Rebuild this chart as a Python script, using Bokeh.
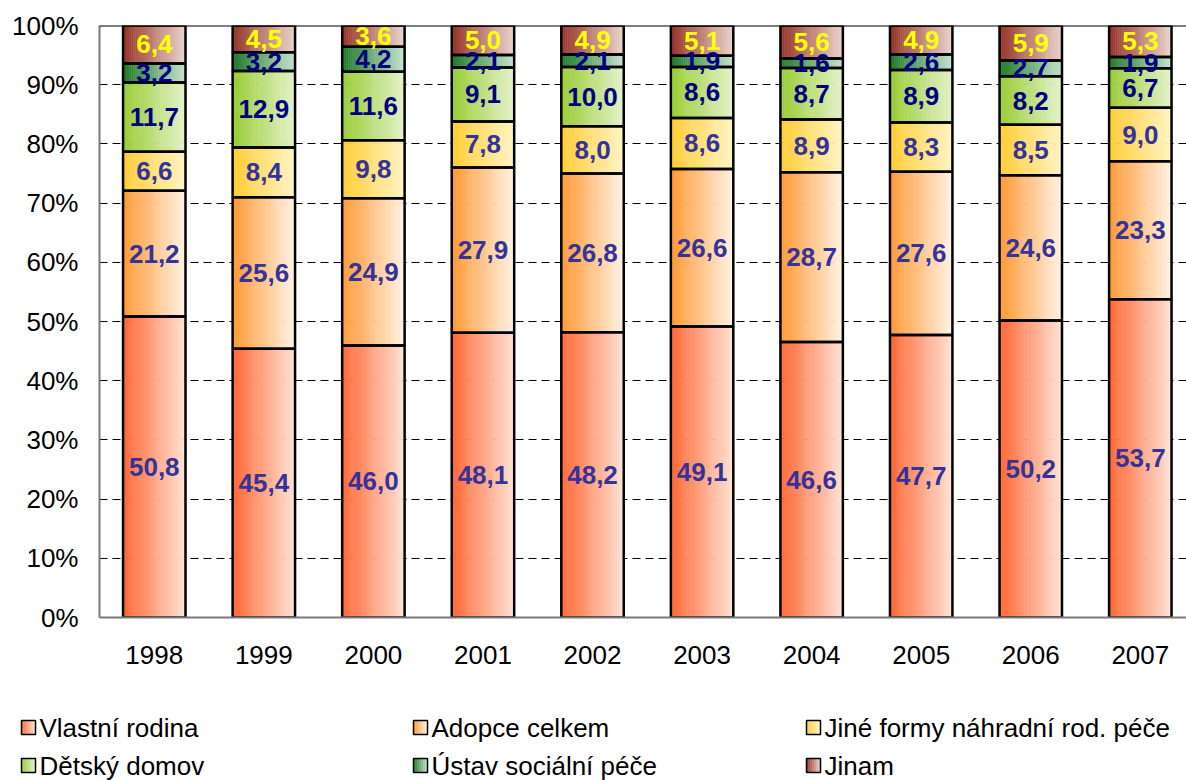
import numpy as np
from bokeh.plotting import figure
from bokeh.models import Range1d, FixedTicker, Span
from bokeh.layouts import column, row
from bokeh.embed import file_html
from bokeh.resources import INLINE
from bokeh.core.properties import value

# ---------------- data ----------------
years = ["1998", "1999", "2000", "2001", "2002", "2003", "2004", "2005", "2006", "2007"]
series_names = ["Vlastní rodina", "Adopce celkem", "Jiné formy náhradní rod. péče",
                "Dětský domov", "Ústav sociální péče", "Jinam"]
vlastni_rodina = [50.8, 45.4, 46.0, 48.1, 48.2, 49.1, 46.6, 47.7, 50.2, 53.7]
adopce_celkem = [21.2, 25.6, 24.9, 27.9, 26.8, 26.6, 28.7, 27.6, 24.6, 23.3]
jine_formy = [6.6, 8.4, 9.8, 7.8, 8.0, 8.6, 8.9, 8.3, 8.5, 9.0]
detsky_domov = [11.7, 12.9, 11.6, 9.1, 10.0, 8.6, 8.7, 8.9, 8.2, 6.7]
ustav_soc_pece = [3.2, 3.2, 4.2, 2.1, 2.1, 1.9, 1.6, 2.6, 2.7, 1.9]
jinam = [6.4, 4.5, 3.6, 5.0, 4.9, 5.1, 5.6, 4.9, 5.9, 5.3]
series_values = [vlastni_rodina, adopce_celkem, jine_formy, detsky_domov, ustav_soc_pece, jinam]

# ---------------- style ----------------
left_colors = ["#FF6633", "#FF9933", "#FFCC33", "#99CC33", "#1E7A28", "#963226"]
right_colors = ["#FFE2D4", "#FFF2E4", "#FFF4C4", "#E4F2CA", "#C4E2CC", "#EAD4CC"]
label_colors = ["#333399", "#333399", "#333399", "#000080", "#000080", "#FFFF00"]
FONT = "Liberation Sans"
W, H1, H2 = 1186, 700, 80
BAR_W = 0.57
NSTRIP = 30


def h2rgb(h):
    h = h.lstrip("#")
    return np.array([int(h[i:i + 2], 16) for i in (0, 2, 4)], dtype=float)


def mix(a, b, t):
    c = h2rgb(a) * (1 - t) + h2rgb(b) * t
    return "#%02x%02x%02x" % tuple(int(round(v)) for v in c)


vals = np.array(series_values, dtype=float)
vals = vals / vals.sum(axis=0) * 100.0
tops = np.cumsum(vals, axis=0)
bottoms = tops - vals
xidx = np.arange(len(years))

p = figure(width=W, height=H1, output_backend="svg", toolbar_location=None,
           x_range=Range1d(-0.5, -0.5 + 1087 / 109.56), y_range=Range1d(0, 100),
           min_border_left=99, min_border_right=0, min_border_top=25, min_border_bottom=H1 - 617)
p.outline_line_color = None
p.background_fill_color = "white"
p.border_fill_color = "white"

# grid
p.xgrid.visible = False
p.ygrid.ticker = FixedTicker(ticks=list(range(10, 100, 10)))
p.ygrid.grid_line_color = "black"
p.ygrid.grid_line_dash = "8 5"
p.ygrid.grid_line_width = 1

# gradient strips
sx, sb, st, sc = [], [], [], []
sw = BAR_W / NSTRIP
for s in range(len(series_names)):
    for k in range(NSTRIP):
        t = (k + 0.5) / NSTRIP
        c = mix(left_colors[s], right_colors[s], t)
        for i in range(len(years)):
            sx.append(xidx[i] - BAR_W / 2 + (k + 0.5) * sw)
            sb.append(bottoms[s, i])
            st.append(tops[s, i])
            sc.append(c)
p.vbar(x=sx, width=sw * 1.2, bottom=sb, top=st, fill_color=sc, line_color=None)

# outlines
ox, ob, ot = [], [], []
for s in range(len(series_names)):
    for i in range(len(years)):
        ox.append(xidx[i]); ob.append(bottoms[s, i]); ot.append(tops[s, i])
p.vbar(x=ox, width=BAR_W, bottom=ob, top=ot, fill_color=None, line_color="black", line_width=2.5)

# labels
lx, ly, lt, lc = [], [], [], []
for s in range(len(series_names)):
    for i in range(len(years)):
        lx.append(xidx[i])
        ly.append((bottoms[s, i] + tops[s, i]) / 2)
        lt.append(f"{series_values[s][i]:.1f}".replace(".", ","))
        lc.append(label_colors[s])
p.text(x=lx, y=ly, text=lt, text_color=lc, text_font=value(FONT), text_font_style="bold",
       text_font_size="26px", text_align="center", text_baseline="middle")

p.add_layout(Span(location=100, dimension="width", line_color="black", line_width=2))

# axes
p.yaxis.ticker = FixedTicker(ticks=list(range(0, 101, 10)))
p.yaxis.major_label_overrides = {t: f"{t}%" for t in range(0, 101, 10)}
p.xaxis.ticker = FixedTicker(ticks=list(range(len(years))))
p.xaxis.major_label_overrides = {i: y for i, y in enumerate(years)}
for ax in (p.xaxis, p.yaxis):
    ax.major_label_text_font = FONT
    ax.major_label_text_font_size = "26px"
    ax.major_label_text_color = "black"
    ax.major_tick_out = 0
    ax.major_tick_in = 0
    ax.minor_tick_out = 0
    ax.minor_tick_in = 0
    ax.axis_line_color = "#7a7a7a"
    ax.axis_line_width = 2
p.yaxis.major_label_standoff = 21
p.xaxis.major_label_standoff = 28

# ---------------- legend (separate strip, pixel coordinates) ----------------
q = figure(width=W, height=H2, output_backend="svg", toolbar_location=None,
           x_range=Range1d(0, W), y_range=Range1d(H2, 0),
           min_border_left=0, min_border_right=0, min_border_top=0, min_border_bottom=0)
q.axis.visible = False
q.grid.visible = False
q.outline_line_color = None
q.border_fill_color = "white"

col_sq = [28, 420, 813]
row_y = [727 - H1, 765 - H1]
SQ = 14
gx, gy, gc = [], [], []
bx, by, tx, ty = [], [], [], []
NL = 7
for s, name in enumerate(series_names):
    cx = col_sq[s % 3]
    cy = row_y[s // 3]
    for k in range(NL):
        t = (k + 0.5) / NL
        gx.append(cx - SQ / 2 + (k + 0.5) * SQ / NL)
        gy.append(cy)
        gc.append(mix(left_colors[s], right_colors[s], t))
    bx.append(cx); by.append(cy)
    tx.append(cx + 11); ty.append(cy)
q.rect(x=gx, y=gy, width=SQ / NL * 1.2, height=SQ, fill_color=gc, line_color=None)
q.rect(x=bx, y=by, width=SQ, height=SQ, fill_color=None, line_color="black", line_width=1.5)
q.text(x=tx, y=ty, text=series_names, text_font=value(FONT), text_font_size="26px",
       text_color="black", text_align="left", text_baseline="middle")

layout = column(p, row(q), spacing=0)
open("out.html", "w").write(file_html(layout, INLINE))
